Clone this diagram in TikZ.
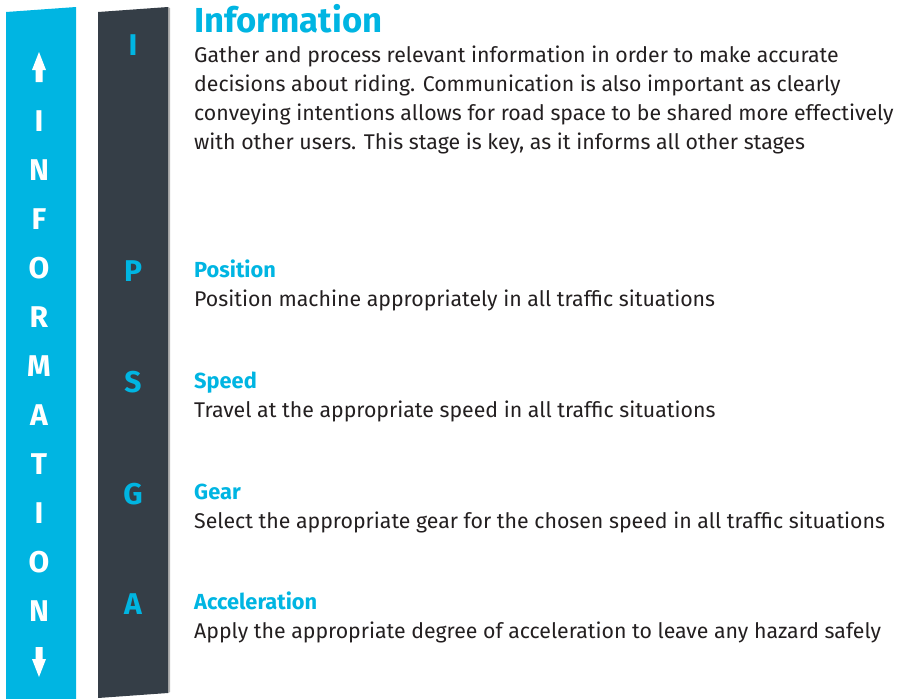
\documentclass[tikz,border=0pt]{standalone}
\usepackage{fontspec}
\setmainfont{Fira Sans}
\definecolor{infoblue}{HTML}{00B5E2}
\definecolor{darkbar}{HTML}{353E47}
\definecolor{bodytext}{HTML}{231F20}
\begin{document}
\begin{tikzpicture}[x=1pt,y=-1pt,
  barletter/.style={anchor=base,inner sep=0pt,font=\fontsize{30}{30}\selectfont\bfseries},
  wletter/.style={barletter,text=white},
  bletter/.style={barletter,text=infoblue},
  heading/.style={anchor=base west,inner sep=0pt,text=infoblue,font=\fontsize{21.8}{21.8}\selectfont\bfseries},
  bigheading/.style={anchor=base west,inner sep=0pt,text=infoblue,font=\fontsize{34.7}{34.7}\selectfont\bfseries},
  body/.style={anchor=base west,inner sep=0pt,text=bodytext,font=\fontsize{21.3}{21.3}\selectfont}]
\useasboundingbox (0,0) rectangle (900,699);
% bars
\fill[infoblue] (6,12) -- (76,7) -- (76,699) -- (6,699) -- cycle;
\fill[black!30] (168,7) -- (170,8) -- (170,692) -- (168,693) -- cycle;
\fill[darkbar] (98,12) -- (168,7) -- (168,693) -- (98,698) -- cycle;
% arrows
\fill[white] (39,52) -- (46,70) -- (42.5,70) -- (42.5,82) -- (35.5,82) -- (35.5,70) -- (32,70) -- cycle;
\fill[white] (39,677) -- (46,659) -- (42.5,659) -- (42.5,647) -- (35.5,647) -- (35.5,659) -- (32,659) -- cycle;
% vertical word
\foreach \ch [count=\i from 0] in {I,N,F,O,R,M,A,T,I,O,N}
  \node[wletter] (w\i) at (39,{131.5+49*\i}) {\ch};
% stage letters
\node[bletter] (sI) at (133,55.5) {I};
\node[bletter] (sP) at (133,281.5) {P};
\node[bletter] (sS) at (133,392.5) {S};
\node[bletter] (sG) at (133,504.5) {G};
\node[bletter] (sA) at (133,614.5) {A};
% texts
\node[bigheading] (hI) at (194,32) {Information};
\node[body] (b1) at (194,62) {Gather and process relevant information in order to make accurate};
\node[body] (b2) at (194,91) {decisions about riding. Communication is also important as clearly};
\node[body] (b3) at (194,120) {conveying intentions allows for road space to be shared more effectively};
\node[body] (b4) at (194,149) {with other users. This stage is key, as it informs all other stages};
\node[heading] (hP) at (194,277) {Position};
\node[body] (bP) at (194,306) {Position machine appropriately in all traffic situations};
\node[heading] (hS) at (194,388) {Speed};
\node[body] (bS) at (194,417) {Travel at the appropriate speed in all traffic situations};
\node[heading] (hG) at (194,499) {Gear};
\node[body] (bG) at (194,528) {Select the appropriate gear for the chosen speed in all traffic situations};
\node[heading] (hA) at (194,609) {Acceleration};
\node[body] (bA) at (194,638) {Apply the appropriate degree of acceleration to leave any hazard safely};
\end{tikzpicture}
\end{document}
